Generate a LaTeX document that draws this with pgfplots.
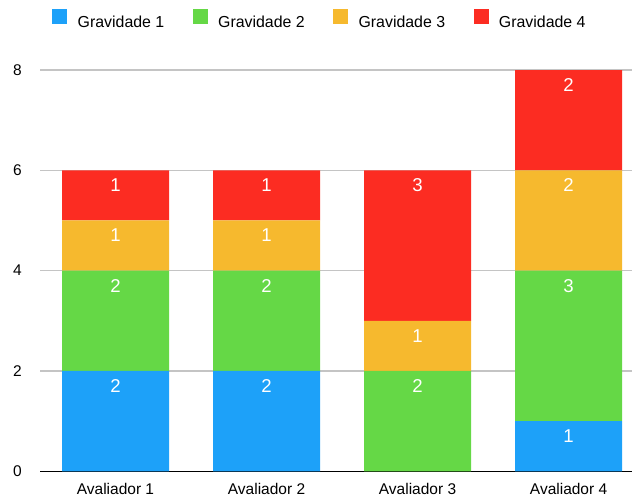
\documentclass[border=0pt]{standalone}
\usepackage{fontspec}
\setmainfont{Liberation Sans}
\usepackage{pgfplots}
\usepackage{pgfplotstable}
\pgfplotsset{compat=1.18}

\definecolor{gblue}{HTML}{1DA1F9}
\definecolor{ggreen}{HTML}{65D846}
\definecolor{gorange}{HTML}{F6B92E}
\definecolor{gred}{HTML}{FC2C22}
\definecolor{gridgray}{HTML}{C4C4C4}

% counts per evaluator and severity level
\pgfplotstableread{
x g1 g2 g3 g4
0 2 2 1 1
1 2 2 1 1
2 0 2 1 3
3 1 3 2 2
}\counts

% value label sits just below the top edge of its segment
\pgfplotsset{
  seglabel/.style={
    visualization depends on={\thisrow{#1} \as \segval},
    every node near coord/.append style={yshift=\segval*25.08pt-8.3pt}},
}

\begin{document}
\begin{tikzpicture}
\useasboundingbox (0,0) rectangle (632pt,498pt);
\begin{axis}[
  at={(40pt,26.7pt)}, anchor=south west,
  scale only axis, width=592pt, height=401.3pt,
  ybar stacked, bar width=107pt,
  xmin=-0.5, xmax=3.42, ymin=0, ymax=8,
  xtick={0,1,2,3},
  xticklabels={Avaliador 1,Avaliador 2,Avaliador 3,Avaliador 4},
  ytick={0,2,4,6,8},
  ymajorgrids, grid style={gridgray, line width=1.3pt},
  axis line style={draw=none},
  major tick length=0pt,
  /pgf/number format/assume math mode=true,
  tick label style={font=\fontsize{15.5}{18}\selectfont, text=black},
  yticklabel style={inner sep=0pt, anchor=east, xshift=-18pt},
  xticklabel style={inner sep=0pt, anchor=north, yshift=-12pt},
  nodes near coords={\pgfmathfloatifflags{\pgfplotspointmeta}{0}{}{\pgfmathprintnumber{\pgfplotspointmeta}}},
  every node near coord/.append style={anchor=north, inner sep=0pt,
    text=white, font=\fontsize{18.6}{22}\selectfont},
  legend columns=4,
  legend style={draw=none, fill=none, inner sep=0pt, outer sep=0pt,
    at={(0.0208,1.1266)}, anchor=west,
    nodes={inner sep=0pt, font=\fontsize{15.9}{18}\selectfont},
    /tikz/every odd column/.append style={column sep=10.4pt},
    /tikz/every even column/.append style={column sep=28.4pt}},
  legend image code/.code={\fill[#1] (0pt,-2pt) rectangle (15pt,13pt);},
]
\addplot[fill=gblue, draw=none, seglabel=g1] table[x=x, y=g1] {\counts};
\addplot[fill=ggreen, draw=none, seglabel=g2] table[x=x, y=g2] {\counts};
\addplot[fill=gorange, draw=none, seglabel=g3] table[x=x, y=g3] {\counts};
\addplot[fill=gred, draw=none, seglabel=g4] table[x=x, y=g4] {\counts};
\legend{Gravidade 1,Gravidade 2,Gravidade 3,Gravidade 4}
\draw[black, line width=1.3pt] (rel axis cs:0,0) -- (rel axis cs:1,0);
\end{axis}
\end{tikzpicture}
\end{document}
